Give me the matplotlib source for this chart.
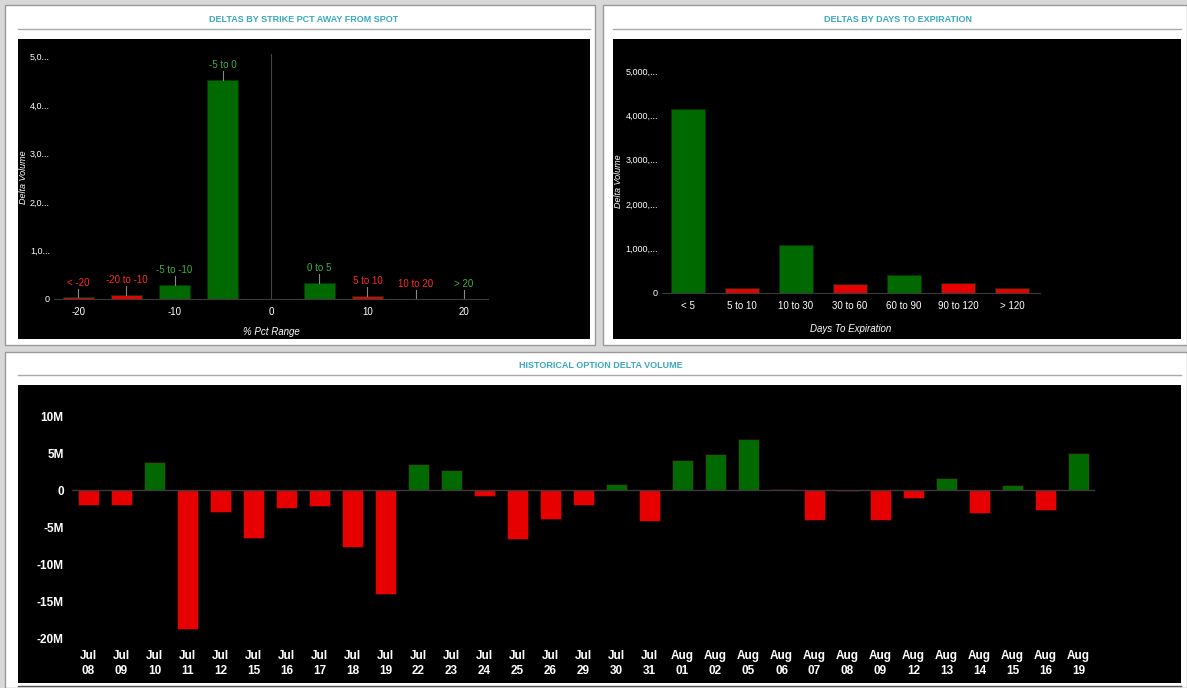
import matplotlib
matplotlib.use("Agg")
import matplotlib.pyplot as plt
from matplotlib.patches import Rectangle

plt.rcParams['font.family'] = ['Liberation Sans', 'DejaVu Sans']
plt.rcParams['axes.unicode_minus'] = False

# ---- data ----
pct_labels = ["< -20", "-20 to -10", "-5 to -10", "-5 to 0", "0 to 5", "5 to 10", "10 to 20", "> 20"]
pct_pos = [-20, -15, -10, -5, 5, 10, 15, 20]
pct_vals = [35, 80, 290, 4510, 330, 60, 8, 8]
pct_colors = ["red", "red", "green", "green", "green", "red", "red", "green"]
pct_ticks = [-20, -10, 0, 10, 20]
pct_yticks = [0, 1000, 2000, 3000, 4000, 5000]
pct_yticklabels = ["0", "1,0...", "2,0...", "3,0...", "4,0...", "5,0..."]

dte_labels = ["< 5", "5 to 10", "10 to 30", "30 to 60", "60 to 90", "90 to 120", "> 120"]
dte_vals = [4135, 115, 1080, 210, 410, 230, 115]
dte_colors = ["green", "red", "green", "red", "green", "red", "red"]
dte_yticks = [0, 1000, 2000, 3000, 4000, 5000]
dte_yticklabels = ["0", "1,000,...", "2,000,...", "3,000,...", "4,000,...", "5,000,..."]

hist_dates = ["Jul\n08", "Jul\n09", "Jul\n10", "Jul\n11", "Jul\n12", "Jul\n15", "Jul\n16", "Jul\n17",
              "Jul\n18", "Jul\n19", "Jul\n22", "Jul\n23", "Jul\n24", "Jul\n25", "Jul\n26", "Jul\n29",
              "Jul\n30", "Jul\n31", "Aug\n01", "Aug\n02", "Aug\n05", "Aug\n06", "Aug\n07", "Aug\n08",
              "Aug\n09", "Aug\n12", "Aug\n13", "Aug\n14", "Aug\n15", "Aug\n16", "Aug\n19"]
hist_vals = [-2.0, -2.0, 3.9, -18.7, -2.9, -6.4, -2.4, -2.1, -7.7, -14.0, 3.6, 2.7, -0.8, -6.6,
             -3.9, -2.0, 0.9, -4.2, 4.05, 4.95, 7.0, 0.15, -4.0, -0.15, -4.0, -1.0, 1.7, -3.1,
             0.7, -2.6, 5.05]
hist_yticks = [-20, -15, -10, -5, 0, 5, 10]
hist_yticklabels = ["-20M", "-15M", "-10M", "-5M", "0", "5M", "10M"]

GREEN = "#006a00"
RED = "#e60000"
CMAP = {"green": GREEN, "red": RED}
TEAL = "#3aa8c1"

W, H = 1187, 688
fig = plt.figure(figsize=(W / 100, H / 100), dpi=100)
fig.patch.set_facecolor("#d8d8d8")

def frect(x0, y0, x1, y1, **kw):
    fig.patches.append(Rectangle((x0 / W, 1 - y1 / H), (x1 - x0) / W, (y1 - y0) / H,
                                 transform=fig.transFigure, zorder=-5, **kw))

def fline(x0, x1, y, color="#aaaaaa", lw=1):
    fig.add_artist(plt.Line2D([x0 / W, x1 / W], [1 - y / H, 1 - y / H], color=color, lw=lw,
                              transform=fig.transFigure, zorder=-4))

def ax_px(x0, y0, x1, y1):
    ax = fig.add_axes([x0 / W, 1 - y1 / H, (x1 - x0) / W, (y1 - y0) / H])
    ax.set_zorder(5)
    return ax

def ftext(x, y, s, **kw):
    t = fig.text(x / W, 1 - y / H, s, **kw)
    t.set_zorder(10)
    return t

# panels
frect(5, 5, 595, 345, facecolor="white", edgecolor="#999999", lw=1)
frect(603, 5, 1187, 345, facecolor="white", edgecolor="#999999", lw=1)
frect(5, 352, 1187, 688, facecolor="white", edgecolor="#999999", lw=1)
frect(18, 39, 590, 339, facecolor="black")
frect(613, 39, 1181, 339, facecolor="black")
frect(18, 385, 1181, 683, facecolor="black")
fline(18, 590, 29)
fline(613, 1181, 29)
fline(18, 1181, 375)
fline(18, 1181, 686, color="#555555")
ftext(304, 20, "DELTAS BY STRIKE PCT AWAY FROM SPOT", color=TEAL, fontsize=6.5,
      fontweight="bold", ha="center", va="center")
ftext(898, 20, "DELTAS BY DAYS TO EXPIRATION", color=TEAL, fontsize=6.5,
      fontweight="bold", ha="center", va="center")
ftext(601, 366, "HISTORICAL OPTION DELTA VOLUME", color=TEAL, fontsize=6.5,
      fontweight="bold", ha="center", va="center")

def style(ax):
    ax.set_facecolor("black")
    for s in ax.spines.values():
        s.set_visible(False)
    ax.spines["bottom"].set_visible(True)
    ax.spines["bottom"].set_color("#3a3a3a")
    ax.tick_params(length=0, colors="white")

# ---- panel 1 ----
ax1 = ax_px(54, 54, 488, 299)
style(ax1)
ax1.set_xlim(-22.5, 22.5)
ax1.set_ylim(0, 5050)
ax1.bar(pct_pos, pct_vals, width=3.2, color=[CMAP[c] for c in pct_colors], edgecolor="#003300", lw=0.6)
ax1.axvline(0, color="#444444", lw=0.8)
for x, v, lab, c in zip(pct_pos, pct_vals, pct_labels, pct_colors):
    ax1.plot([x, x], [v, v + 180], color="#888888", lw=0.8, clip_on=False)
    ax1.text(x, v + 200, lab, color="#3cb043" if c == "green" else "#ff2a2a", fontsize=7,
             ha="center", va="bottom")
ax1.set_xticks(pct_ticks)
ax1.set_yticks(pct_yticks)
ax1.set_yticklabels(pct_yticklabels)
ax1.tick_params(axis="x", labelsize=7, pad=6)
ax1.tick_params(axis="y", labelsize=6.5, pad=3)
ax1.set_xlabel("% Pct Range", color="white", fontsize=7, style="italic", labelpad=7)
ftext(24, 177, "Delta Volume", color="white", fontsize=6.5, style="italic", rotation=90,
      ha="center", va="center")

# ---- panel 2 ----
ax2 = ax_px(662, 62, 1040, 293)
style(ax2)
ax2.set_xlim(-0.48, 6.52)
ax2.set_ylim(0, 5200)
ax2.bar(range(len(dte_vals)), dte_vals, width=0.63, color=[CMAP[c] for c in dte_colors],
        edgecolor="#003300", lw=0.6)
ax2.set_xticks(range(len(dte_labels)))
ax2.set_xticklabels(dte_labels)
ax2.set_yticks(dte_yticks)
ax2.set_yticklabels(dte_yticklabels)
ax2.tick_params(axis="x", labelsize=7, pad=6)
ax2.tick_params(axis="y", labelsize=6.5, pad=3)
ax2.set_xlabel("Days To Expiration", color="white", fontsize=7, style="italic", labelpad=9)
ftext(619, 181, "Delta Volume", color="white", fontsize=6.5, style="italic", rotation=90,
      ha="center", va="center")

# ---- panel 3 ----
ax3 = ax_px(72, 409, 1095, 642)
style(ax3)
ax3.spines["bottom"].set_visible(False)
ax3.axhline(0, color="#3a3a3a", lw=1)
ax3.set_xlim(-0.5, len(hist_vals) - 0.5)
ax3.set_ylim(-20.5, 11)
ax3.bar(range(len(hist_vals)), hist_vals, width=0.64,
        color=[GREEN if v > 0 else RED for v in hist_vals], edgecolor="#330000", lw=0.6)
ax3.set_xticks(range(len(hist_dates)))
ax3.set_xticklabels(hist_dates, fontweight="bold", linespacing=1.3)
ax3.set_yticks(hist_yticks)
ax3.set_yticklabels(hist_yticklabels, fontweight="bold")
ax3.tick_params(labelsize=8.5, pad=6)

fig.savefig("out.png", dpi=100, facecolor=fig.get_facecolor())
